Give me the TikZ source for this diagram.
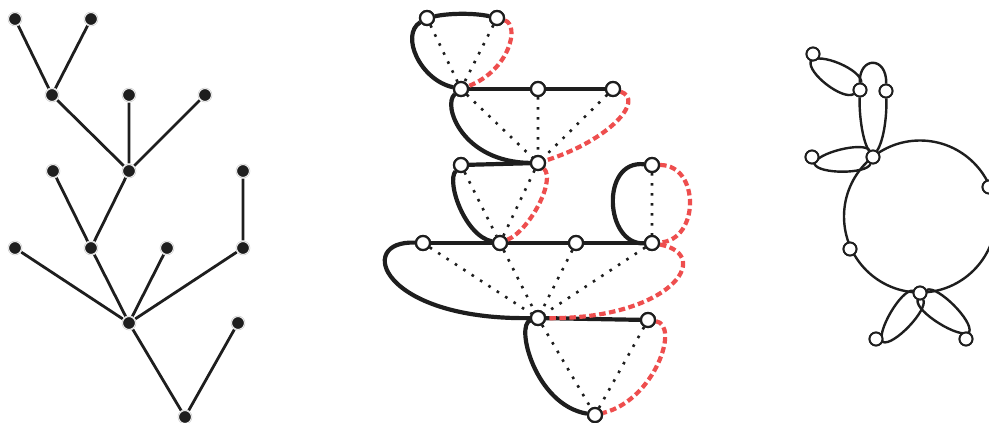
\documentclass[tikz,border=0pt]{standalone}
\usepackage{tikz}
\usetikzlibrary{arrows.meta,positioning,calc}
\definecolor{gInk}{RGB}{30,30,30}
\definecolor{gCut}{RGB}{238,78,78}
\definecolor{gHalo}{RGB}{200,200,200}

\begin{document}
\begin{tikzpicture}[x=1pt,y=-1pt,
  leaf/.style={circle,fill=gInk,draw=white,line width=1.6pt,inner sep=0pt,minimum size=13.5pt},
  halo/.style={circle,draw=gHalo,line width=0.5pt,inner sep=0pt,minimum size=14pt},
  hole/.style={circle,fill=white,draw=gInk,line width=2.2pt,inner sep=0pt,minimum size=14pt},
  ring/.style={circle,fill=white,draw=gInk,line width=1.9pt,inner sep=0pt,minimum size=13pt},
  twig/.style={draw=gInk,line width=2.8pt},
  thick edge/.style={draw=gInk,line width=4.2pt},
  cut/.style={draw=gCut,line width=4.2pt,dash pattern=on 6.5pt off 3.5pt},
  dots/.style={draw=gInk,line width=2.6pt,dash pattern=on 2.6pt off 7.4pt},
  thin edge/.style={draw=gInk,line width=2.4pt},
  petal/.style={bend left=70,looseness=0.5}]
  \useasboundingbox (0,0) rectangle (989,423);

  % Tree
  \node[leaf] at (15,19) (a1) {};
  \node[leaf] at (91,19) (a2) {};
  \node[leaf] at (52,95) (b1) {};
  \node[leaf] at (129,95) (b2) {};
  \node[leaf] at (205,95) (b3) {};
  \node[leaf] at (53,171) (c1) {};
  \node[leaf] at (129,171) (c2) {};
  \node[leaf] at (243,171) (c3) {};
  \node[leaf] at (15,248) (d1) {};
  \node[leaf] at (91,248) (d2) {};
  \node[leaf] at (167,248) (d3) {};
  \node[leaf] at (243,248) (d4) {};
  \node[leaf] at (129,323) (e1) {};
  \node[leaf] at (238,323) (e2) {};
  \node[leaf] at (185,417) (f) {};
  \draw[twig] (a1) -- (b1) (a2) -- (b1) (b1) -- (c2) (b2) -- (c2) (b3) -- (c2);
  \draw[twig] (c1) -- (d2) (c2) -- (d2) (c3) -- (d4);
  \draw[twig] (d1) -- (e1) (d2) -- (e1) (d3) -- (e1) (d4) -- (e1);
  \draw[twig] (e1) -- (f) (e2) -- (f);
  \foreach \v in {a1,a2,b1,b2,b3,c1,c2,c3,d1,d2,d3,d4,e1,e2,f}
    \node[halo] at (\v) {};

  % Middle graph
  \node[hole] at (427,18) (m1) {};
  \node[hole] at (497,18) (m2) {};
  \node[hole] at (461,89) (n1) {};
  \node[hole] at (538,89) (n2) {};
  \node[hole] at (613,89) (n3) {};
  \node[hole] at (461,165) (o1) {};
  \node[hole] at (538,163) (o2) {};
  \node[hole] at (652,165) (o3) {};
  \node[hole] at (423,243) (p1) {};
  \node[hole] at (500,243) (p2) {};
  \node[hole] at (576,243) (p3) {};
  \node[hole] at (652,243) (p4) {};
  \node[hole] at (538,318) (q1) {};
  \node[hole] at (648,320) (q2) {};
  \node[hole] at (595,415) (r) {};
  \draw[dots] (m1) -- (n1) (m2) -- (n1);
  \draw[dots] (n1) -- (o2) (n2) -- (o2) (n3) -- (o2);
  \draw[dots] (o1) -- (p2) (o2) -- (p2) (o3) -- (p4);
  \draw[dots] (p1) -- (q1) (p2) -- (q1) (p3) -- (q1) (p4) -- (q1);
  \draw[dots] (q1) -- (r) (q2) -- (r);
  \draw[thick edge] (m1) .. controls (450,13) and (475,13) .. (m2);
  \draw[thick edge] (m1) .. controls (400,35) and (420,80) .. (n1);
  \draw[thick edge] (n1) -- (n2) -- (n3);
  \draw[thick edge] (n1) .. controls (442,105) and (462,162) .. (o2);
  \draw[thick edge] (o1) -- (o2);
  \draw[thick edge] (o1) .. controls (446,182) and (465,236) .. (p2);
  \draw[thick edge] (o3) .. controls (600,160) and (605,245) .. (p4);
  \draw[thick edge] (p1) -- (p2) -- (p3) -- (p4);
  \draw[thick edge] (p1) .. controls (355,240) and (380,320) .. (q1);
  \draw[thick edge] (q1) -- (q2);
  \draw[thick edge] (q1) .. controls (515,325) and (535,405) .. (r);
  % Red cut edges
  \draw[cut] (m2) .. controls (520,25) and (510,70) .. (n1);
  \draw[cut] (n3) .. controls (645,100) and (610,140) .. (o2);
  \draw[cut] (o2) .. controls (556,180) and (530,230) .. (p2);
  \draw[cut] (o3) .. controls (700,165) and (700,240) .. (p4);
  \draw[cut] (p4) .. controls (715,255) and (670,320) .. (q1);
  \draw[cut] (q2) .. controls (680,325) and (655,400) .. (r);
  % redraw nodes on top
  \foreach \v in {m1,m2,n1,n2,n3,o1,o2,o3,p1,p2,p3,p4,q1,q2,r}
    \node[hole] at (\v) {};

  % Right graph
  \coordinate (ctr) at (920,216.5);
  \draw[thin edge] (ctr) circle[radius=76];
  \node[ring] at (873,157) (v1) {};
  \node[ring] at (989,187) (v2) {};
  \node[ring] at (850,249) (v3) {};
  \node[ring] at (920,293) (v4) {};
  \node[ring] at (812,157) (w1) {};
  \node[ring] at (813,54) (w2) {};
  \node[ring] at (860,90) (t1) {};
  \node[ring] at (886,91) (t2) {};
  \node[ring] at (876,339) (w3) {};
  \node[ring] at (966,339) (w4) {};
  \draw[thin edge] (v1) to[petal] (w1) to[petal] (v1);
  \draw[thin edge] (t1) to[petal,looseness=0.6] (w2) to[petal,looseness=0.6] (t1);
  \draw[thin edge] (v4) to[petal] (w3) to[petal] (v4);
  \draw[thin edge] (v4) to[petal] (w4) to[petal] (v4);
  \draw[thin edge] (v1) .. controls (862,140) and (859,112) .. (t1);
  \draw[thin edge] (t1) .. controls (859,56) and (887,56) .. (t2);
  \draw[thin edge] (t2) .. controls (887,115) and (884,140) .. (v1);
  \foreach \v in {v1,v2,v3,v4,w1,w2,t1,t2,w3,w4}
    \node[ring] at (\v) {};
\end{tikzpicture}
\end{document}
